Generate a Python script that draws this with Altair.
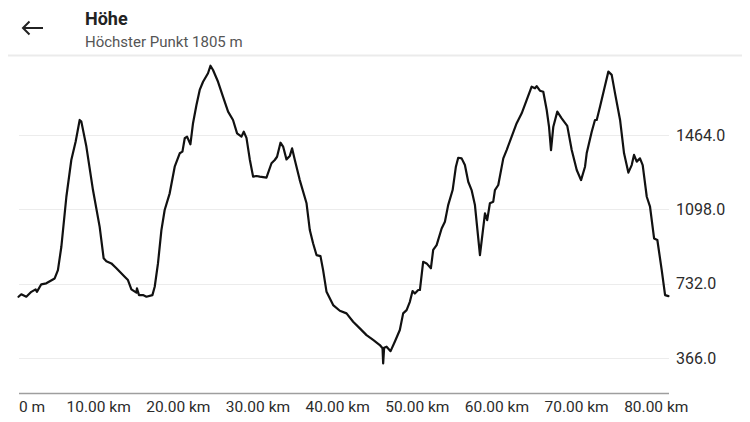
import altair as alt
import pandas as pd

# ---- data ----
distance_km = [
    0.0, 0.35, 0.98, 1.61, 2.15, 2.31, 2.86, 3.49, 4.54, 4.95, 5.38, 6.01, 6.63, 7.17, 7.68, 7.89,
    8.52, 9.35, 10.19, 10.69, 11.03, 11.66, 12.29, 13.33, 13.74, 14.17, 14.80, 14.87, 15.13, 15.63,
    16.06, 16.81, 17.10, 17.51, 17.94, 18.35, 18.98, 19.61, 20.24, 20.58, 20.87, 21.16, 21.58, 21.91,
    22.34, 22.75, 23.17, 23.79, 24.10, 24.42, 25.05, 25.68, 26.31, 26.93, 27.44, 27.99, 28.28, 28.62,
    29.03, 29.45, 29.87, 30.29, 31.13, 31.76, 32.17, 32.46, 32.89, 33.22, 33.64, 34.06, 34.35, 34.69,
    35.31, 36.16, 36.57, 36.98, 37.41, 37.91, 38.24, 38.67, 39.50, 40.34, 41.18, 42.01, 42.85, 43.69,
    44.52, 45.36, 45.70, 45.78, 45.90, 46.21, 46.71, 47.24, 47.87, 48.29, 48.72, 49.13, 49.47, 49.76,
    50.18, 50.39, 50.80, 51.23, 51.77, 52.06, 52.49, 53.12, 53.53, 53.94, 54.50, 54.91, 55.20, 55.63,
    56.04, 56.46, 56.88, 57.30, 57.93, 58.56, 58.84, 59.18, 59.60, 59.81, 60.23, 60.86, 61.28, 61.91,
    62.54, 63.17, 63.79, 64.42, 64.84, 65.05, 65.46, 65.88, 66.31, 66.60, 66.85, 67.14, 67.64, 68.19,
    68.89, 69.45, 70.08, 70.62, 71.12, 71.33, 71.96, 72.37, 72.59, 73.00, 73.50, 74.05, 74.47, 74.89,
    75.52, 76.02, 76.56, 76.98, 77.27, 77.61, 78.02, 78.36, 78.87, 79.28, 79.79, 80.20, 80.75, 81.17,
    81.59,
]
elevation_m = [
    668, 680, 668, 692, 704, 692, 729, 734, 758, 799, 914, 1160, 1341, 1431, 1538, 1530,
    1407, 1193, 1012, 857, 843, 832, 808, 766, 750, 704, 688, 709, 676, 676,
    668, 676, 717, 832, 996, 1095, 1177, 1308, 1374, 1382, 1448, 1456, 1418, 1522,
    1612, 1686, 1726, 1768, 1805, 1784, 1726, 1652, 1579, 1538, 1472, 1456, 1480, 1450,
    1345, 1259, 1262, 1259, 1254, 1325, 1341, 1357, 1426, 1407, 1344, 1361, 1398, 1341,
    1242, 1128, 996, 931, 873, 868, 799, 692, 627, 599, 586, 545, 512, 479,
    455, 430, 414, 340, 417, 422, 400, 446, 504, 586, 602, 643, 696, 684,
    701, 701, 840, 832, 808, 898, 922, 1004, 1037, 1119, 1193, 1308, 1352, 1349,
    1316, 1234, 1193, 1119, 873, 1078, 1045, 1128, 1136, 1193, 1218, 1349, 1390, 1456,
    1522, 1571, 1636, 1702, 1694, 1705, 1682, 1677, 1587, 1505, 1390, 1505, 1579, 1546,
    1509, 1390, 1292, 1242, 1308, 1374, 1480, 1538, 1538, 1603, 1686, 1776, 1760, 1669,
    1538, 1374, 1279, 1316, 1366, 1333, 1349, 1316, 1160, 1111, 955, 947, 799, 676,
    671,
]
y_ticks = [366, 732, 1098, 1464]
x_ticks = [0, 10, 20, 30, 40, 50, 60, 70, 80]
title_text = ["Höhe"]
subtitle_text = ["Höchster Punkt 1805 m"]

FONT = "Roboto"

df = pd.DataFrame({"km": distance_km, "m": elevation_m})

line = alt.Chart(df).mark_line(
    color="#111111", strokeWidth=2.2, strokeJoin="round", strokeCap="round"
).encode(
    x=alt.X(
        "km:Q",
        scale=alt.Scale(domain=[0, 81.6], nice=False, zero=False),
        axis=alt.Axis(
            values=x_ticks,
            labelExpr="datum.value == 0 ? '0 m' : format(datum.value, '.2f') + ' km'",
            ticks=False,
            grid=False,
            domainColor="#9e9e9e",
            domainWidth=1.5,
            labelPadding=6,
            labelFontSize=15.5,
            labelColor="#2b2b2b",
            labelFont=FONT,
            labelFlush=True,
            title=None,
        ),
    ),
    y=alt.Y(
        "m:Q",
        scale=alt.Scale(domain=[194, 1848], nice=False, zero=False),
        axis=alt.Axis(
            orient="right",
            values=y_ticks,
            format=".1f",
            grid=True,
            gridColor="#ececec",
            gridWidth=1,
            ticks=False,
            domain=False,
            labelPadding=7,
            labelFontSize=16,
            labelColor="#2b2b2b",
            labelFont=FONT,
            title=None,
        ),
    ),
)

one = pd.DataFrame({"a": [0]})

separator = alt.Chart(one).mark_rule(color="#ebebeb", strokeWidth=2).encode(
    x=alt.value(-10.5), x2=alt.value(735), y=alt.value(-1.5)
)

arrow = alt.Chart(one).mark_point(
    shape="M 1 0 L -1 0 M -0.35 -0.65 L -1 0 L -0.35 0.65",
    filled=False, size=400, strokeWidth=2, color="#222222", opacity=1,
).encode(x=alt.value(14.5), y=alt.value(-29))

title = alt.Chart(pd.DataFrame({"t": title_text})).mark_text(
    align="left", baseline="alphabetic", font=FONT, fontSize=18, fontWeight="bold", color="#222222"
).encode(text="t:N", x=alt.value(66.5), y=alt.value(-32))

subtitle = alt.Chart(pd.DataFrame({"t": subtitle_text})).mark_text(
    align="left", baseline="alphabetic", font=FONT, fontSize=15, color="#555555"
).encode(text="t:N", x=alt.value(66.5), y=alt.value(-10))

chart = alt.layer(separator, arrow, title, subtitle, line).properties(
    width=650,
    height=336,
    padding={"left": 10.5, "top": 49, "right": 73.5, "bottom": 26},
    autosize=alt.AutoSizeParams(type="none"),
).configure_view(stroke=None)

chart.save("out.html", embed_options={"renderer": "svg", "actions": False})
